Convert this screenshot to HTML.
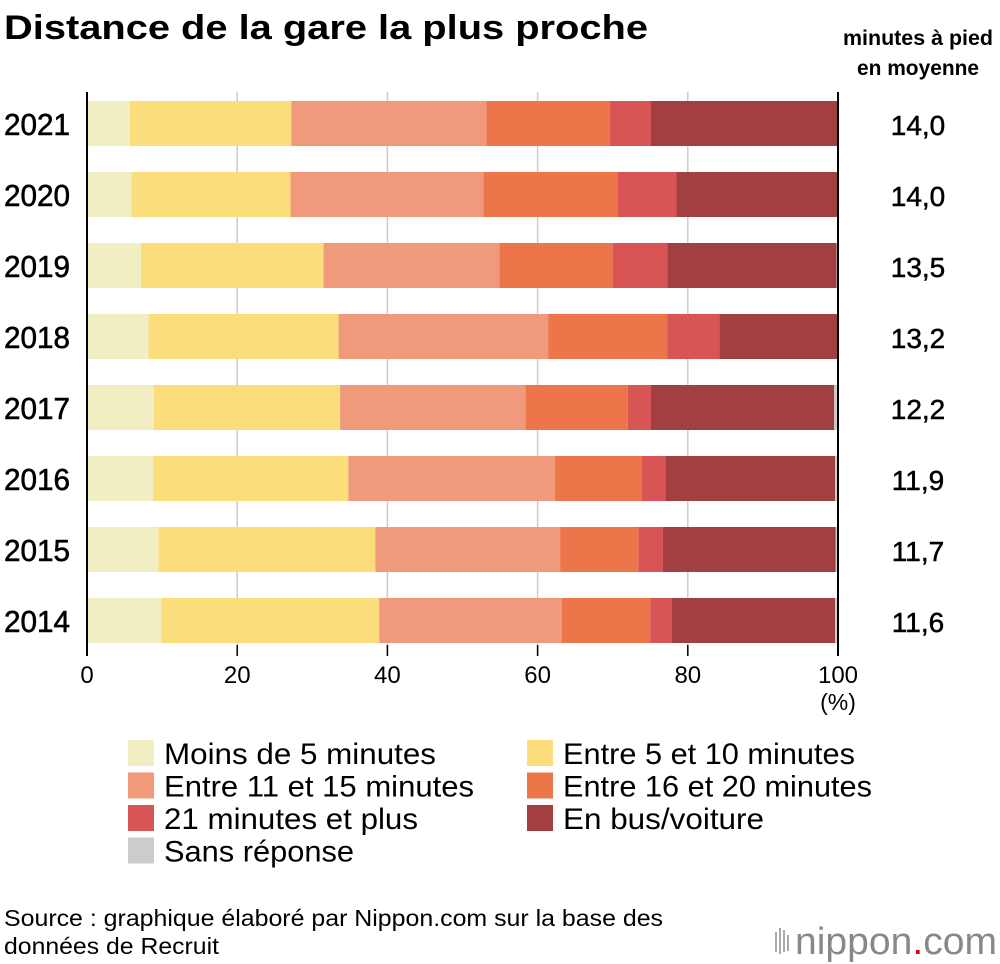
<!DOCTYPE html>
<html><head><meta charset="utf-8"><style>
body{margin:0;background:#fff;}
svg{display:block;font-family:"Liberation Sans",sans-serif;}
</style></head><body>
<svg id="chart" width="1000" height="964" viewBox="0 0 1000 964">
<text x="4" y="39" font-size="34" font-weight="bold" textLength="644" lengthAdjust="spacingAndGlyphs">Distance de la gare la plus proche</text>
<text x="918" y="45" font-size="21" font-weight="bold" text-anchor="middle" textLength="150" lengthAdjust="spacingAndGlyphs">minutes à pied</text>
<text x="918" y="75" font-size="21" font-weight="bold" text-anchor="middle" textLength="122" lengthAdjust="spacingAndGlyphs">en moyenne</text>
<g id="grid"></g><g id="bars"></g><g id="axis"></g><g id="legend"></g>
<text x="4" y="926" font-size="23" textLength="659" lengthAdjust="spacingAndGlyphs">Source : graphique élaboré par Nippon.com sur la base des</text>
<text x="4" y="954" font-size="23" textLength="215" lengthAdjust="spacingAndGlyphs">données de Recruit</text>
<g>
<rect x="775" y="932" width="2" height="20" fill="#aaa"/><rect x="779" y="928" width="2" height="26" fill="#aaa"/><rect x="783" y="930" width="2" height="22" fill="#aaa"/><rect x="787" y="935" width="2" height="16" fill="#aaa"/>
<text x="795" y="954" font-size="38" fill="#888" textLength="202" lengthAdjust="spacingAndGlyphs">nippon<tspan fill="#e60012">.</tspan>com</text>
</g>
</svg>
<script>
const years=["2021","2020","2019","2018","2017","2016","2015","2014"];
const averages=["14,0","14,0","13,5","13,2","12,2","11,9","11,7","11,6"];
const lt5=[5.7,5.9,7.2,8.2,8.9,8.8,9.5,9.9];
const m5to10=[21.5,21.2,24.3,25.3,24.8,26.0,28.9,29.0];
const m11to15=[26.0,25.7,23.4,27.9,24.7,27.5,24.6,24.3];
const m16to20=[16.4,17.9,15.1,15.9,13.6,11.6,10.4,11.8];
const m21plus=[5.5,7.8,7.3,6.9,3.1,3.1,3.3,2.9];
const busCar=[24.9,21.5,22.5,15.8,24.4,22.6,23.0,21.7];
const noAnswer=[0,0,0.2,0,0.5,0.4,0.3,0.4];
const ticks=[0,20,40,60,80,100];
const seriesNames=["Moins de 5 minutes","Entre 5 et 10 minutes","Entre 11 et 15 minutes","Entre 16 et 20 minutes","21 minutes et plus","En bus/voiture","Sans réponse"];
const NS="http://www.w3.org/2000/svg";
const colors=["#f2eec4","#fbdd7c","#f19a7b","#ec754a","#d95454","#a23f41","#cccccc"];
const legendWidths=[272,292,310,309,254,201,190];
const series=[lt5,m5to10,m11to15,m16to20,m21plus,busCar,noAnswer];
const X=v=>87+v*7.51;
const Y=i=>101+i*71;
const BH=45;
function mk(tag,attrs,parent){const e=document.createElementNS(NS,tag);for(const k in attrs)e.setAttribute(k,attrs[k]);parent.appendChild(e);return e;}
const grid=document.getElementById('grid'),bars=document.getElementById('bars'),axis=document.getElementById('axis'),legend=document.getElementById('legend');
ticks.forEach(t=>{
 if(t>0&&t<100){const l=mk('line',{x1:X(t),x2:X(t),y1:92,y2:655,stroke:'#ccc','stroke-width':1.5},grid);
 
 }
 const tk=mk('line',{x1:X(t),x2:X(t),y1:645,y2:656,stroke:'#000','stroke-width':1.5},axis);
 
 
 const tx=mk('text',{x:X(t),y:683,'font-size':24,'text-anchor':'middle'},axis);tx.textContent=t;
 
 
});
const pc=mk('text',{x:X(100),y:710,'font-size':23,'text-anchor':'middle'},axis);pc.textContent='(%)';


years.forEach((y,i)=>{
 let acc=0;
 series.forEach((s,j)=>{
  const v=s[i];if(v<=0){return;}
  const r=mk('rect',{x:X(acc),y:Y(i),width:X(acc+v)-X(acc),height:BH,fill:colors[j]},bars);
  
  
  acc+=v;
 });
 const yl=mk('text',{x:4,y:Y(i)+34,'font-size':31,'stroke':'#000','stroke-width':0.6,textLength:66,lengthAdjust:'spacingAndGlyphs'},axis);yl.textContent=y;
 
 
 const av=mk('text',{x:918,y:Y(i)+34,'font-size':28,'text-anchor':'middle','stroke':'#000','stroke-width':0.5},axis);av.textContent=averages[i];
 
 
});
const la=mk('line',{x1:X(0),x2:X(0),y1:92,y2:656,stroke:'#000','stroke-width':2},axis);


const ra=mk('line',{x1:X(100),x2:X(100),y1:92,y2:656,stroke:'#000','stroke-width':2},axis);


seriesNames.forEach((n,j)=>{
 const col=j===6?0:j%2, row=j===6?3:Math.floor(j/2);
 const x=col?527:128, y=740+row*32.5;
 const g=mk('g',{},legend);
 
 
 mk('rect',{x:x,y:y,width:26,height:26,fill:colors[j]},g);
 const t=mk('text',{x:x+36,y:y+24,'font-size':30,textLength:legendWidths[j],lengthAdjust:'spacingAndGlyphs'},g);t.textContent=n;
});
</script>
</body></html>
